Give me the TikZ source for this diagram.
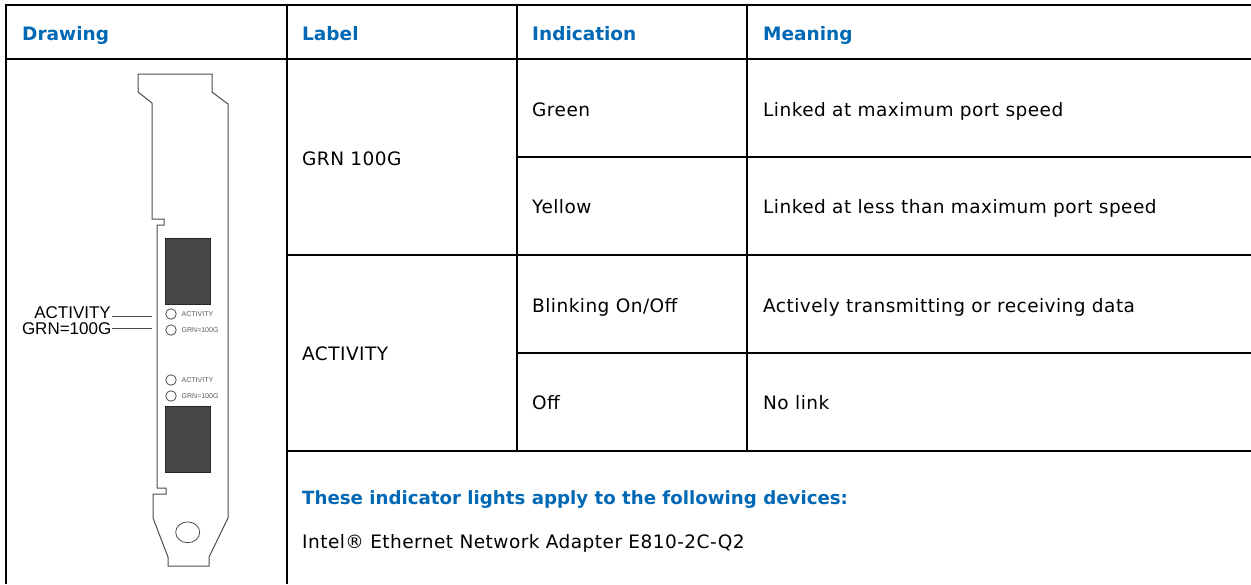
\documentclass[tikz,border=0pt]{standalone}
\usepackage{fontspec}
\setmainfont{DejaVu Sans}
\newfontfamily\cellfont{DejaVu Sans}[LetterSpace=2.5]
\newfontfamily\arialfont{Liberation Sans}
\definecolor{intelblue}{HTML}{0068B5}
\tikzset{
  tabline/.style={line width=2pt},
  cell/.style={anchor=base west, inner sep=0pt, font=\cellfont\fontsize{18.5}{22}\selectfont},
  head/.style={anchor=base west, inner sep=0pt, font=\fontsize{18.5}{22}\selectfont\bfseries, text=intelblue},
  callout/.style={anchor=base east, inner sep=0pt, font=\arialfont\fontsize{17}{20}\selectfont},
  ledtxt/.style={anchor=west, inner sep=0pt, font=\arialfont\fontsize{7}{8}\selectfont, text=black!65},
  led/.style={circle, draw=black!70, line width=.8pt, minimum size=10.5pt, inner sep=0pt},
  port/.style={draw=black!85, fill=black!72, line width=.8pt}
}
\begin{document}
\begin{tikzpicture}[x=1pt,y=-1pt]
	\useasboundingbox (0,0) rectangle (1251,584);
	% table rules
	\draw[tabline](5,5)--(1251,5);
	\draw[tabline](5,59)--(1251,59);
	\draw[tabline](517,157)--(1251,157);
	\draw[tabline](287,255)--(1251,255);
	\draw[tabline](517,353)--(1251,353);
	\draw[tabline](287,451)--(1251,451);
	\draw[tabline](6,4)--(6,584);
	\draw[tabline](287,4)--(287,584);
	\draw[tabline](517,4)--(517,452);
	\draw[tabline](747,4)--(747,452);
	% header
	\node[head] (hdraw) at (22,40) {Drawing};
	\node[head] (hlabel) at (302,40) {Label};
	\node[head] (hind) at (532,40) {Indication};
	\node[head] (hmean) at (763,40) {Meaning};
	% rows
	\node[cell] (grn) at (302,165) {GRN 100G};
	\node[cell] (green) at (532,116) {Green};
	\node[cell] (mgreen) at (763,116) {Linked at maximum port speed};
	\node[cell] (yellow) at (532,213) {Yellow};
	\node[cell] (myellow) at (763,213) {Linked at less than maximum port speed};
	\node[cell] (act) at (302,360) {ACTIVITY};
	\node[cell] (blink) at (532,312) {Blinking On/Off};
	\node[cell] (mblink) at (763,312) {Actively transmitting or receiving data};
	\node[cell] (off) at (532,409) {Off};
	\node[cell] (moff) at (763,409) {No link};
	\node[head,font=\fontsize{18.2}{22}\selectfont\bfseries] (devs) at (302,504) {These indicator lights apply to the following devices:};
	\node[cell] (adapter) at (302,548) {Intel® Ethernet Network Adapter E810-2C-Q2};
	% bracket
	\draw[black!70,line width=1pt,line join=miter](138,74)--(212,74)--(212,92)--(228,104)--(228,518)--(209,557)--(209,566)--(168,566)--(168,557)--(153,518)--(153,494)--(166,494)--(166,488)--(157,488)--(157,225)--(164,225)--(164,219)--(152,219)--(152,103)--(138,92)--cycle;
	\draw[black!70,line width=.8pt](187.7,532.3) ellipse[x radius=12,y radius=10.4];
	\draw[port](165,238) rectangle (210,304);
	\draw[port](165,406) rectangle (210,472);
	\node[led] (led1) at (171,314) {};
	\node[led] (led2) at (171,330) {};
	\node[led] (led3) at (171,380) {};
	\node[led] (led4) at (171,396) {};
	\node[ledtxt] (led1t) at (181.5,314) {ACTIVITY};
	\node[ledtxt] (led2t) at (181.5,330) {GRN=100G};
	\node[ledtxt] (led3t) at (181.5,380) {ACTIVITY};
	\node[ledtxt] (led4t) at (181.5,396) {GRN=100G};
	% callouts
	\node[callout] (cact) at (111,318.3) {ACTIVITY};
	\node[callout] (cgrn) at (111.5,334) {GRN=100G};
	\coordinate (pact) at (152,316);
	\coordinate (pgrn) at (152,328);
	\draw[black!70](cact.base east) ++(1,-2.3)--(pact);
	\draw[black!70](cgrn.base east) ++(0,-6)--(pgrn);
\end{tikzpicture}
\end{document}
